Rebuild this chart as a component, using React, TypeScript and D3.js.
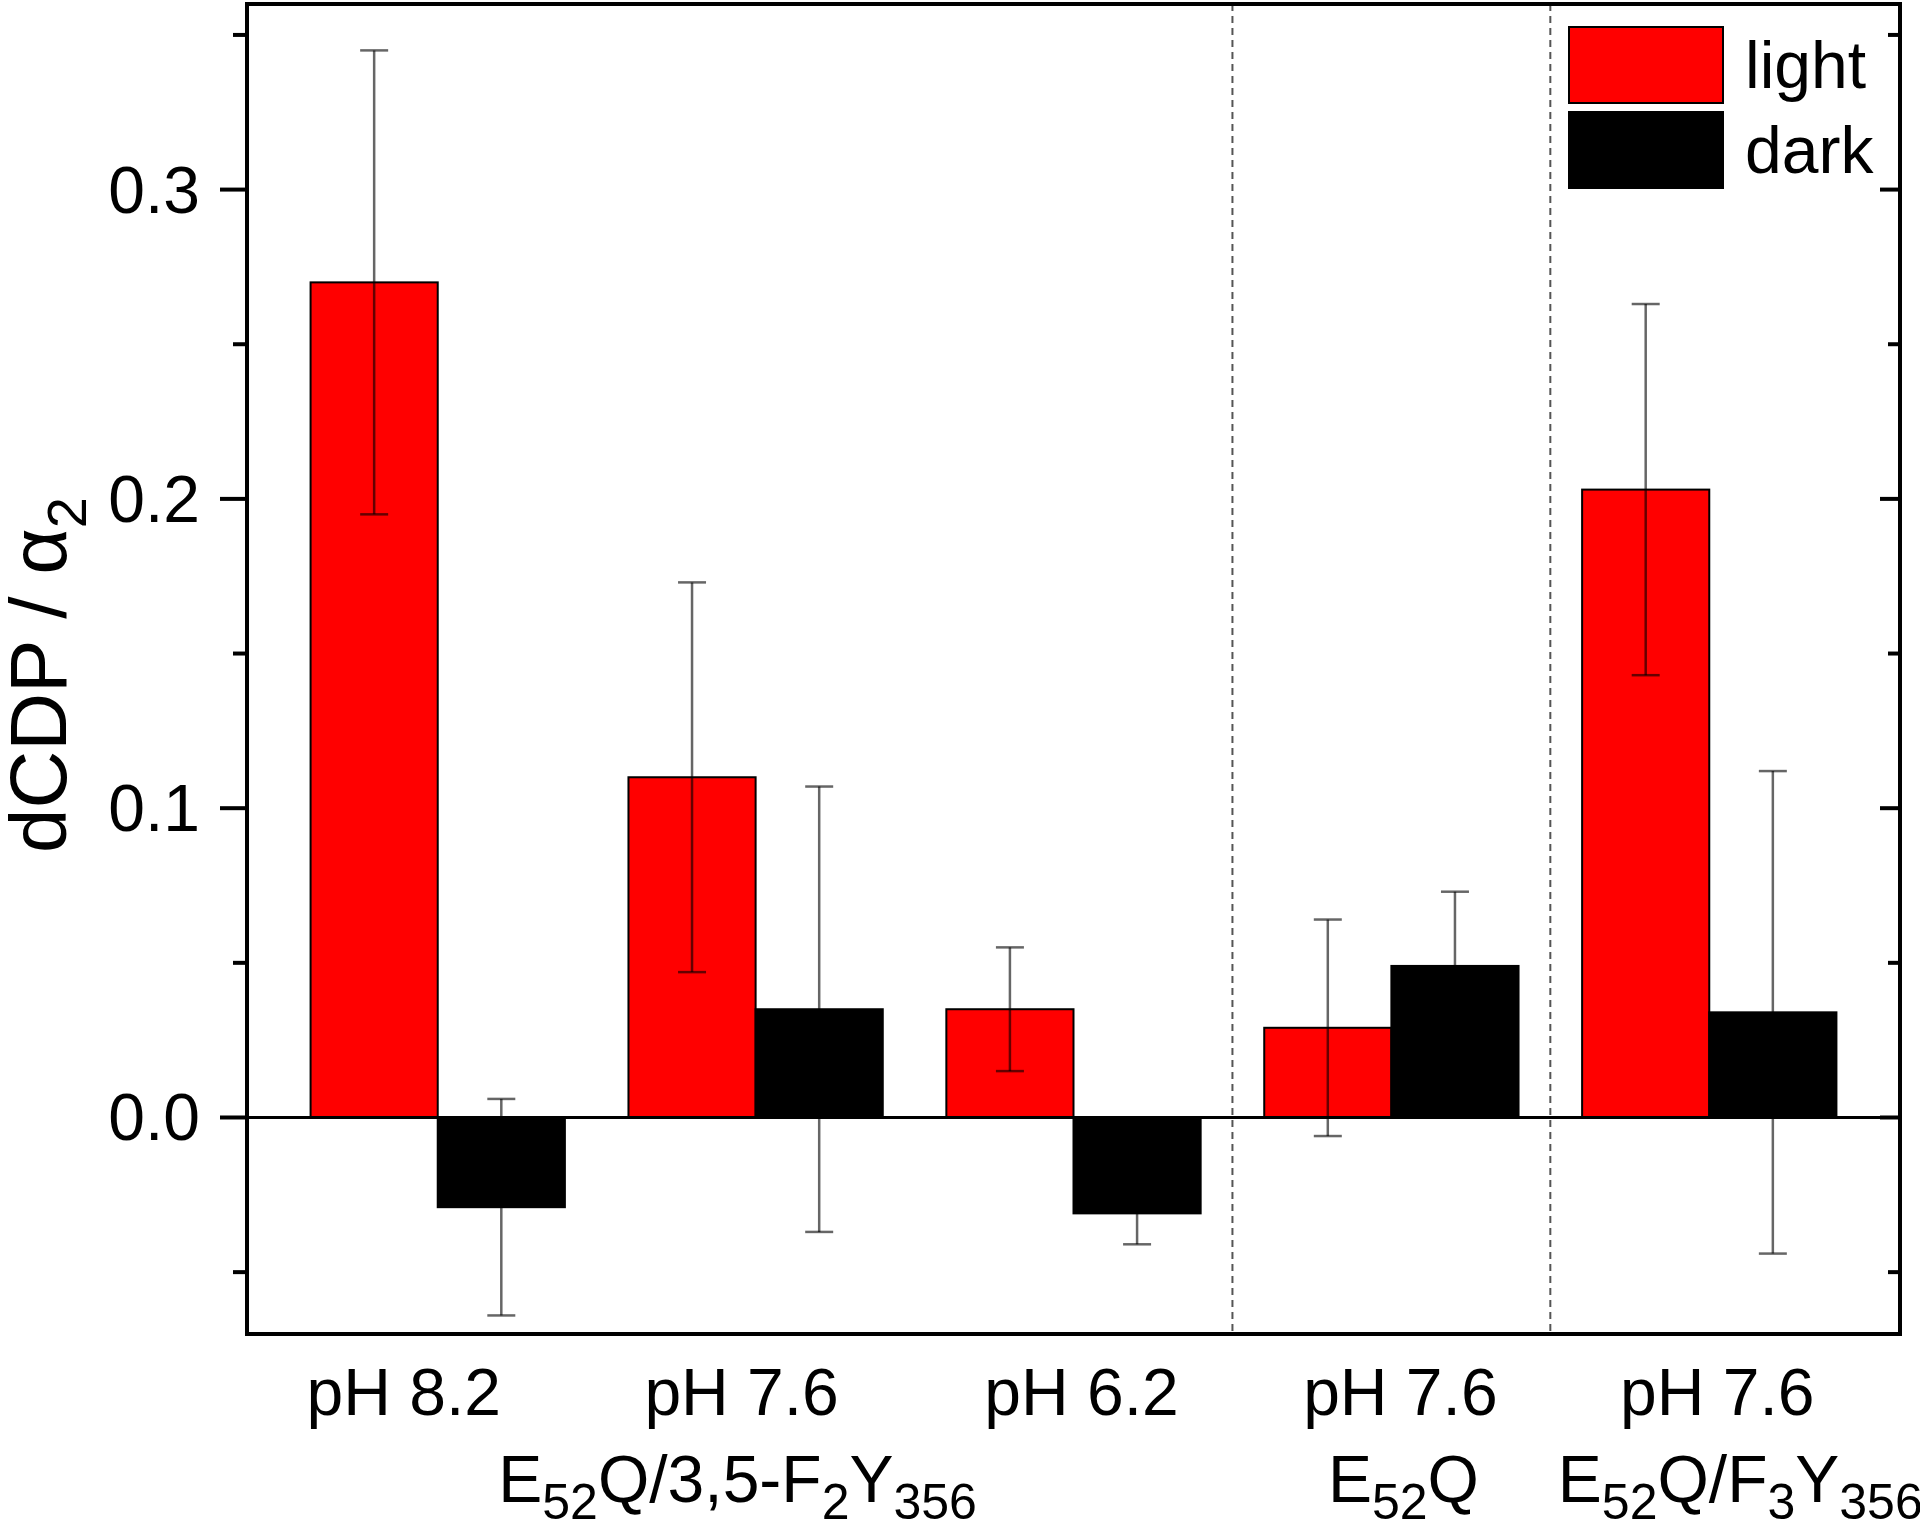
import React from "react";
import * as d3 from "d3";

// ---- data ----
const categories = ["pH 8.2", "pH 7.6", "pH 6.2", "pH 7.6", "pH 7.6"];
const lightValues = [0.27, 0.11, 0.035, 0.029, 0.203];
const lightErrors = [0.075, 0.063, 0.02, 0.035, 0.06];
const darkValues = [-0.029, 0.035, -0.031, 0.049, 0.034];
const darkErrors = [0.035, 0.072, 0.01, 0.024, 0.078];
const seriesNames = ["light", "dark"];
const yTicks = [0, 0.1, 0.2, 0.3];
const yMinorTicks = [-0.05, 0.05, 0.15, 0.25, 0.35];
const separators = [3.5, 4.5];
// second-line labels: [groupIndex, segments]
type Seg = { t: string; sub?: boolean };
const subLabels: { group: number; segs: Seg[] }[] = [
  { group: 1, segs: [{ t: "E" }, { t: "52", sub: true }, { t: "Q/3,5-F" }, { t: "2", sub: true }, { t: "Y" }, { t: "356", sub: true }] },
  { group: 3, segs: [{ t: "E" }, { t: "52", sub: true }, { t: "Q" }] },
  { group: 4, segs: [{ t: "E" }, { t: "52", sub: true }, { t: "Q/F" }, { t: "3", sub: true }, { t: "Y" }, { t: "356", sub: true }] },
];

// ---- layout ----
const W = 1920;
const H = 1521;
const L = 247, R = 1900, T = 4, B = 1334;
const FONT = "'Liberation Sans', Arial, Helvetica, sans-serif";
const RED = "#ff0000";
const labelDx = [-34, -14, 8, 9, 8];
const subLabelDx = [-18, 12, 31];
const SUB_DY = 17;

export default function App() {
  const x = d3.scaleLinear().domain([0.4, categories.length + 0.6]).range([L, R]);
  const y = d3.scaleLinear().domain([-0.07, 0.36]).range([B, T]);
  const unit = x(1) - x(0);
  const bw = unit * 0.4;
  const y0 = y(0);

  const bars: JSX.Element[] = [];
  const errs: JSX.Element[] = [];
  const series = [
    { vals: lightValues, errs: lightErrors, fill: RED, off: -1 },
    { vals: darkValues, errs: darkErrors, fill: "#000", off: 0 },
  ];
  series.forEach((s, si) => {
    s.vals.forEach((v, i) => {
      const cx = x(i + 1);
      const bx = cx + s.off * bw;
      const top = Math.min(y(v), y0);
      const h = Math.abs(y(v) - y0);
      bars.push(
        <rect key={`b${si}-${i}`} x={bx} y={top} width={bw} height={h} fill={s.fill} stroke="#000" strokeWidth={2} />
      );
      const ex = bx + bw / 2;
      const e = s.errs[i];
      const yt = y(v + e), yb = y(v - e);
      errs.push(
        <g key={`e${si}-${i}`} stroke="#000" strokeOpacity={0.6} strokeWidth={2.5}>
          <line x1={ex} x2={ex} y1={yt} y2={yb} />
          <line x1={ex - 14} x2={ex + 14} y1={yt} y2={yt} />
          <line x1={ex - 14} x2={ex + 14} y1={yb} y2={yb} />
        </g>
      );
    });
  });

  return (
    <svg width={W} height={H} style={{ position: "absolute", left: 0, top: 0, background: "#fff" }} fontFamily={FONT}>
      <rect x={0} y={0} width={W} height={H} fill="#fff" />
      {/* separators */}
      {separators.map((s, i) => (
        <line key={`sep${i}`} x1={x(s)} x2={x(s)} y1={T} y2={B} stroke="#555" strokeWidth={2} strokeDasharray="7,5" />
      ))}
      {bars}
      {errs}
      {/* zero line */}
      <line x1={L} x2={R} y1={y0} y2={y0} stroke="#000" strokeWidth={3} />
      {/* frame */}
      <rect x={L} y={T} width={R - L} height={B - T} fill="none" stroke="#000" strokeWidth={4} />
      {/* y ticks */}
      {yTicks.map((t) => (
        <g key={`t${t}`}>
          <line x1={L - 27} x2={L} y1={y(t)} y2={y(t)} stroke="#000" strokeWidth={4} />
          <line x1={R - 20} x2={R} y1={y(t)} y2={y(t)} stroke="#000" strokeWidth={4} />
          <text x={L - 47} y={y(t) + 23} textAnchor="end" fontSize={66}>{d3.format(".1f")(t)}</text>
        </g>
      ))}
      {yMinorTicks.map((t) => (
        <g key={`m${t}`}>
          <line x1={L - 14} x2={L} y1={y(t)} y2={y(t)} stroke="#000" strokeWidth={4} />
          <line x1={R - 12} x2={R} y1={y(t)} y2={y(t)} stroke="#000" strokeWidth={4} />
        </g>
      ))}
      {/* y label */}
      <text transform={`translate(66,675) rotate(-90)`} textAnchor="middle" fontSize={80}>
        dCDP / α<tspan fontSize={56} dy={20}>2</tspan>
      </text>
      {/* x labels */}
      {categories.map((c, i) => (
        <text key={`c${i}`} x={x(i + 1) + labelDx[i]} y={1415} textAnchor="middle" fontSize={66}>{c}</text>
      ))}
      {subLabels.map((sl, k) => {
        let prevSub = false;
        return (
          <text key={`s${k}`} x={x(sl.group + 1) + subLabelDx[k]} y={1502} textAnchor="middle" fontSize={66}>
            {sl.segs.map((sg, j) => {
              const dy = sg.sub && !prevSub ? SUB_DY : !sg.sub && prevSub ? -SUB_DY : 0;
              prevSub = !!sg.sub;
              return (
                <tspan key={j} dy={dy} fontSize={sg.sub ? 50 : 66}>{sg.t}</tspan>
              );
            })}
          </text>
        );
      })}
      {/* legend */}
      {seriesNames.map((n, i) => (
        <g key={`l${i}`}>
          <rect x={1569} y={27 + i * 85} width={154} height={76} fill={i === 0 ? RED : "#000"} stroke="#000" strokeWidth={2} />
          <text x={1745} y={88 + i * 85} fontSize={66}>{n}</text>
        </g>
      ))}
    </svg>
  );
}
